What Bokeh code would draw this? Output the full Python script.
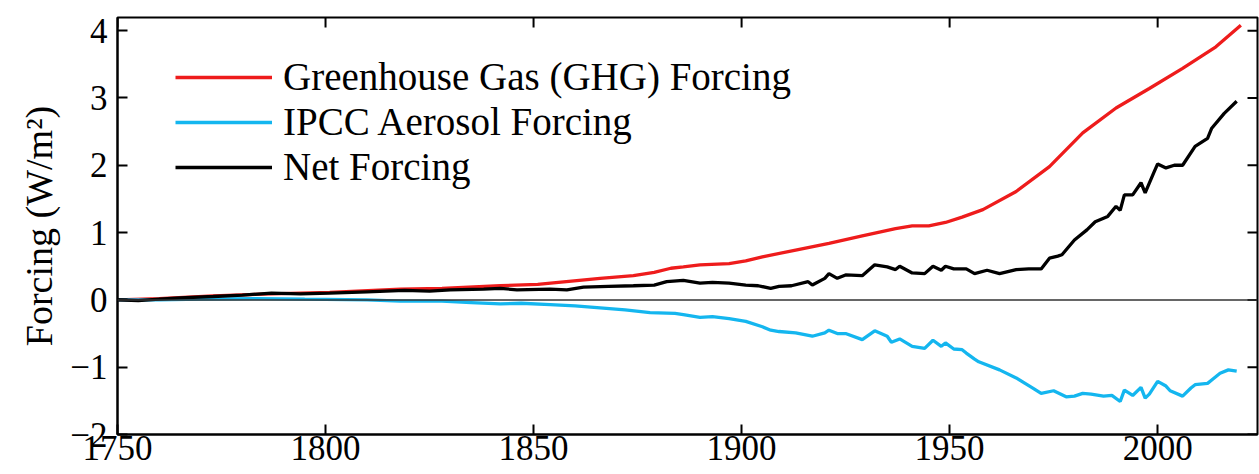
import math
from bokeh.plotting import figure
from bokeh.models import Span, Legend, LegendItem, FixedTicker, Range1d
from bokeh.embed import file_html
from bokeh.resources import INLINE

# ---- data ----
ghg_years = [1750, 1760, 1773, 1787, 1801, 1818, 1828, 1842, 1851, 1856, 1866, 1874, 1879,
             1883, 1886, 1890, 1897, 1901, 1905, 1913, 1921, 1929, 1937, 1941, 1945, 1949,
             1953, 1958, 1966, 1974, 1982, 1990, 1998, 2006, 2014, 2020]
ghg_values = [0.00, 0.02, 0.06, 0.09, 0.11, 0.16, 0.17, 0.21, 0.23, 0.26, 0.32, 0.36, 0.41,
              0.47, 0.49, 0.52, 0.54, 0.58, 0.64, 0.74, 0.84, 0.95, 1.06, 1.10, 1.10, 1.15,
              1.23, 1.34, 1.61, 1.98, 2.48, 2.85, 3.14, 3.44, 3.76, 4.08]

aer_years = [1750, 1760, 1770, 1783, 1795, 1810, 1818, 1828, 1835, 1842, 1847, 1854, 1860,
             1866, 1872, 1878, 1884, 1886, 1890, 1893, 1897, 1901, 1905, 1907, 1909, 1913,
             1917, 1920, 1921, 1923, 1925, 1929, 1932, 1935, 1936, 1938, 1941, 1944, 1946,
             1948, 1949, 1951, 1953, 1954, 1956, 1957, 1962, 1966, 1970, 1972, 1975, 1978,
             1980, 1982, 1984, 1987, 1989, 1991, 1992, 1994, 1996, 1997, 1998, 2000, 2002,
             2003, 2006, 2008, 2009, 2012, 2013, 2015, 2017, 2019]
aer_values = [0.00, 0.00, 0.01, 0.02, 0.01, 0.00, -0.02, -0.02, -0.04, -0.06, -0.05, -0.07, -0.09,
              -0.12, -0.15, -0.19, -0.20, -0.22, -0.26, -0.25, -0.28, -0.32, -0.40, -0.45, -0.47, -0.49,
              -0.54, -0.49, -0.45, -0.50, -0.50, -0.59, -0.46, -0.54, -0.63, -0.58, -0.69, -0.72, -0.60,
              -0.69, -0.64, -0.73, -0.74, -0.79, -0.88, -0.92, -1.04, -1.16, -1.31, -1.39, -1.35, -1.44,
              -1.43, -1.39, -1.40, -1.43, -1.42, -1.51, -1.34, -1.42, -1.30, -1.46, -1.40, -1.21, -1.28,
              -1.35, -1.43, -1.31, -1.26, -1.24, -1.19, -1.09, -1.04, -1.06]

net_years = [1750, 1755, 1760, 1765, 1773, 1780, 1787, 1794, 1801, 1810, 1819, 1825, 1830,
             1838, 1842, 1846, 1854, 1858, 1862, 1868, 1874, 1879, 1882, 1886, 1890, 1893,
             1897, 1901, 1904, 1907, 1909, 1912, 1916, 1917, 1920, 1921, 1923, 1925, 1929,
             1932, 1935, 1937, 1938, 1941, 1944, 1946, 1948, 1949, 1951, 1954, 1956, 1959,
             1962, 1966, 1969, 1972, 1974, 1976, 1977, 1980, 1983, 1985, 1988, 1990, 1991,
             1992, 1994, 1996, 1997, 1999, 2000, 2002, 2004, 2006, 2009, 2012, 2013, 2016, 2019]
net_values = [0.00, -0.01, 0.01, 0.03, 0.05, 0.07, 0.10, 0.09, 0.10, 0.12, 0.14, 0.13, 0.15,
              0.16, 0.17, 0.15, 0.16, 0.15, 0.19, 0.20, 0.21, 0.22, 0.27, 0.29, 0.25, 0.26,
              0.25, 0.22, 0.21, 0.17, 0.20, 0.21, 0.27, 0.22, 0.32, 0.39, 0.32, 0.37, 0.36,
              0.52, 0.49, 0.45, 0.50, 0.40, 0.39, 0.50, 0.44, 0.50, 0.46, 0.46, 0.39, 0.44,
              0.39, 0.45, 0.46, 0.46, 0.62, 0.65, 0.67, 0.89, 1.04, 1.16, 1.24, 1.39, 1.33,
              1.56, 1.56, 1.74, 1.59, 1.88, 2.02, 1.96, 2.00, 2.00, 2.28, 2.40, 2.55, 2.77, 2.95]

x_ticks = [1750, 1800, 1850, 1900, 1950, 2000]
y_ticks = [-2, -1, 0, 1, 2, 3, 4]
y_tick_labels = {-2: "\u22122", -1: "\u22121", 0: "0", 1: "1", 2: "2", 3: "3", 4: "4"}
series_names = ["Greenhouse Gas (GHG) Forcing", "IPCC Aerosol Forcing", "Net Forcing"]
series_colors = ["#ee1c1c", "#14b6ef", "#000000"]
y_label = "Forcing (W/m\u00b2)"

FONT = "Liberation Serif"
X0, X1 = 1750, 2024
Y0, Y1 = -2, 4.195

p = figure(width=1259, height=474, output_backend="svg", toolbar_location=None,
           x_range=Range1d(X0, X1), y_range=Range1d(Y0, Y1),
           min_border_left=117, min_border_top=17, min_border_bottom=40, min_border_right=2)
p.xgrid.visible = False
p.ygrid.visible = False
p.outline_line_color = "black"
p.outline_line_width = 2
p.background_fill_color = "white"
p.border_fill_color = "white"

def style_axis(ax):
    ax.axis_line_color = "black"
    ax.axis_line_width = 2
    ax.major_tick_line_color = "black"
    ax.major_tick_line_width = 2
    ax.major_tick_in = 10
    ax.major_tick_out = 0
    ax.minor_tick_line_color = None
    ax.major_label_text_font = FONT
    ax.major_label_text_color = "black"
    ax.major_label_text_font_size = "35px"

xax = p.xaxis[0]
xax.ticker = FixedTicker(ticks=x_ticks)
style_axis(xax)
xax.major_label_standoff = 1

yax = p.yaxis[0]
yax.ticker = FixedTicker(ticks=y_ticks)
yax.major_label_overrides = y_tick_labels
style_axis(yax)
yax.major_label_standoff = 10
yax.axis_label = y_label
yax.axis_label_text_font = FONT
yax.axis_label_text_font_size = "38px"
yax.axis_label_text_font_style = "normal"
yax.axis_label_text_color = "black"
yax.axis_label_standoff = 7

# inward mirror ticks on the top and right edges of the frame (10 px long)
p.ray(x=x_ticks, y=[Y1] * len(x_ticks), length=10, length_units="screen",
      angle=-math.pi / 2, line_color="black", line_width=2)
p.ray(x=[X1] * len(y_ticks), y=y_ticks, length=10, length_units="screen",
      angle=math.pi, line_color="black", line_width=2)

p.add_layout(Span(location=0, dimension="width", line_color="#333333", line_width=1.5))

r_ghg = p.line(ghg_years, ghg_values, line_color=series_colors[0], line_width=3.3)
r_aer = p.line(aer_years, aer_values, line_color=series_colors[1], line_width=3.3)
r_net = p.line(net_years, net_values, line_color=series_colors[2], line_width=3.3)

legend = Legend(items=[LegendItem(label=series_names[0], renderers=[r_ghg]),
                       LegendItem(label=series_names[1], renderers=[r_aer]),
                       LegendItem(label=series_names[2], renderers=[r_net])],
                location=(58, 245), padding=0, margin=0, spacing=-3,
                glyph_width=97, glyph_height=42, label_height=42, label_standoff=11,
                label_text_font=FONT, label_text_font_size="39px", label_text_color="black",
                border_line_color=None, background_fill_alpha=0)
p.add_layout(legend)

open("out.html", "w").write(file_html(p, INLINE))
